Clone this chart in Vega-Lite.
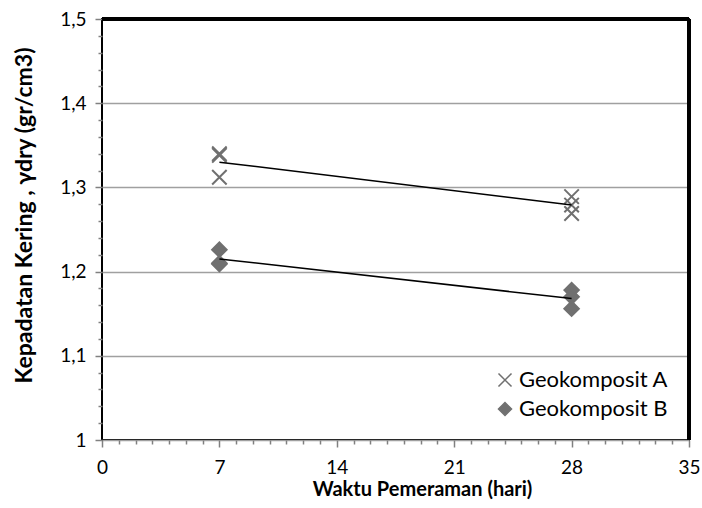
{
  "$schema": "https://vega.github.io/schema/vega-lite/v6.json",
  "width": 587,
  "height": 421,
  "autosize": {"type": "none"},
  "padding": {"left": 102, "top": 19, "right": 13, "bottom": 68},
  "background": "white",
  "config": {
    "font": "Lato",
    "view": {"stroke": "black", "strokeWidth": 2},
    "axis": {"domain": false, "tickColor": "#808080", "tickWidth": 1.5, "labelColor": "black", "titleColor": "black", "labelFont": "Lato", "titleFont": "Lato", "labelFlush": false},
    "legend": {"orient": "none", "legendX": 392, "legendY": 350, "labelFontSize": 22, "labelColor": "black", "labelFont": "Lato", "symbolSize": 170, "symbolStrokeWidth": 1.5, "rowPadding": 7, "labelOffset": 3}
  },
  "data": {
    "values": [
      {"series": "Geokomposit A", "day": 7, "value": 1.340},
      {"series": "Geokomposit A", "day": 7, "value": 1.338},
      {"series": "Geokomposit A", "day": 7, "value": 1.312},
      {"series": "Geokomposit A", "day": 28, "value": 1.289},
      {"series": "Geokomposit A", "day": 28, "value": 1.279},
      {"series": "Geokomposit A", "day": 28, "value": 1.269},
      {"series": "Geokomposit B", "day": 7, "value": 1.226},
      {"series": "Geokomposit B", "day": 7, "value": 1.210},
      {"series": "Geokomposit B", "day": 7, "value": 1.209},
      {"series": "Geokomposit B", "day": 28, "value": 1.178},
      {"series": "Geokomposit B", "day": 28, "value": 1.170},
      {"series": "Geokomposit B", "day": 28, "value": 1.156}
    ]
  },
  "layer": [
    {
      "mark": {"type": "point", "strokeWidth": 2, "opacity": 1},
      "encoding": {
        "x": {
          "field": "day", "type": "quantitative",
          "scale": {"domain": [0, 35], "nice": false, "zero": false},
          "axis": {"orient": "bottom", "values": [0, 7, 14, 21, 28, 35], "grid": false, "tickSize": 7, "labelFontSize": 19, "labelPadding": 11, "title": "Waktu Pemeraman (hari)", "titleFontSize": 20, "titleFontWeight": "bold", "titlePadding": 2, "titleX": 320}
        },
        "y": {
          "field": "value", "type": "quantitative",
          "scale": {"domain": [1, 1.5], "nice": false, "zero": false},
          "axis": {"orient": "left", "values": [1, 1.1, 1.2, 1.3, 1.4, 1.5], "grid": true, "gridColor": "#a0a0a0", "gridWidth": 1.5, "tickSize": 7, "labelFontSize": 19, "labelPadding": 9, "labelExpr": "datum.value == 1 ? '1' : replace(format(datum.value, '.1f'), '.', ',')", "title": "Kepadatan Kering , γdry (gr/cm3)", "titleFontSize": 23, "titleFontWeight": "bold", "titleX": -78, "titleY": 196, "titleBaseline": "middle"}
        },
        "shape": {"field": "series", "type": "nominal", "scale": {"domain": ["Geokomposit A", "Geokomposit B"], "range": ["M-1,-1L1,1M-1,1L1,-1", "diamond"]}, "legend": {"title": null}},
        "fill": {"field": "series", "type": "nominal", "scale": {"domain": ["Geokomposit A", "Geokomposit B"], "range": ["transparent", "#707070"]}, "legend": {"title": null}},
        "stroke": {"field": "series", "type": "nominal", "scale": {"domain": ["Geokomposit A", "Geokomposit B"], "range": ["#707070", "#707070"]}, "legend": {"title": null}},
        "size": {"value": 210}
      }
    },
    {
      "transform": [{"regression": "value", "on": "day", "groupby": ["series"]}],
      "mark": {"type": "line", "color": "black", "strokeWidth": 1.5},
      "encoding": {
        "x": {"field": "day", "type": "quantitative", "axis": {"orient": "bottom", "values": [1, 2, 3, 4, 5, 6, 8, 9, 10, 11, 12, 13, 15, 16, 17, 18, 19, 20, 22, 23, 24, 25, 26, 27, 29, 30, 31, 32, 33, 34], "labels": false, "grid": false, "tickSize": 4, "title": null}},
        "y": {"field": "value", "type": "quantitative", "axis": {"orient": "left", "values": [1.02, 1.04, 1.06, 1.08, 1.12, 1.14, 1.16, 1.18, 1.22, 1.24, 1.26, 1.28, 1.32, 1.34, 1.36, 1.38, 1.42, 1.44, 1.46, 1.48], "labels": false, "grid": false, "tickSize": 4, "title": null}},
        "detail": {"field": "series", "type": "nominal"}
      }
    },
    {
      "mark": {"type": "rule", "color": "black", "strokeWidth": 4},
      "encoding": {"y": {"datum": 1.5, "type": "quantitative", "axis": null}}
    },
    {
      "mark": {"type": "rule", "color": "black", "strokeWidth": 4},
      "encoding": {"x": {"datum": 35, "type": "quantitative", "axis": null}}
    }
  ],
  "resolve": {"axis": {"x": "independent", "y": "independent"}}
}
